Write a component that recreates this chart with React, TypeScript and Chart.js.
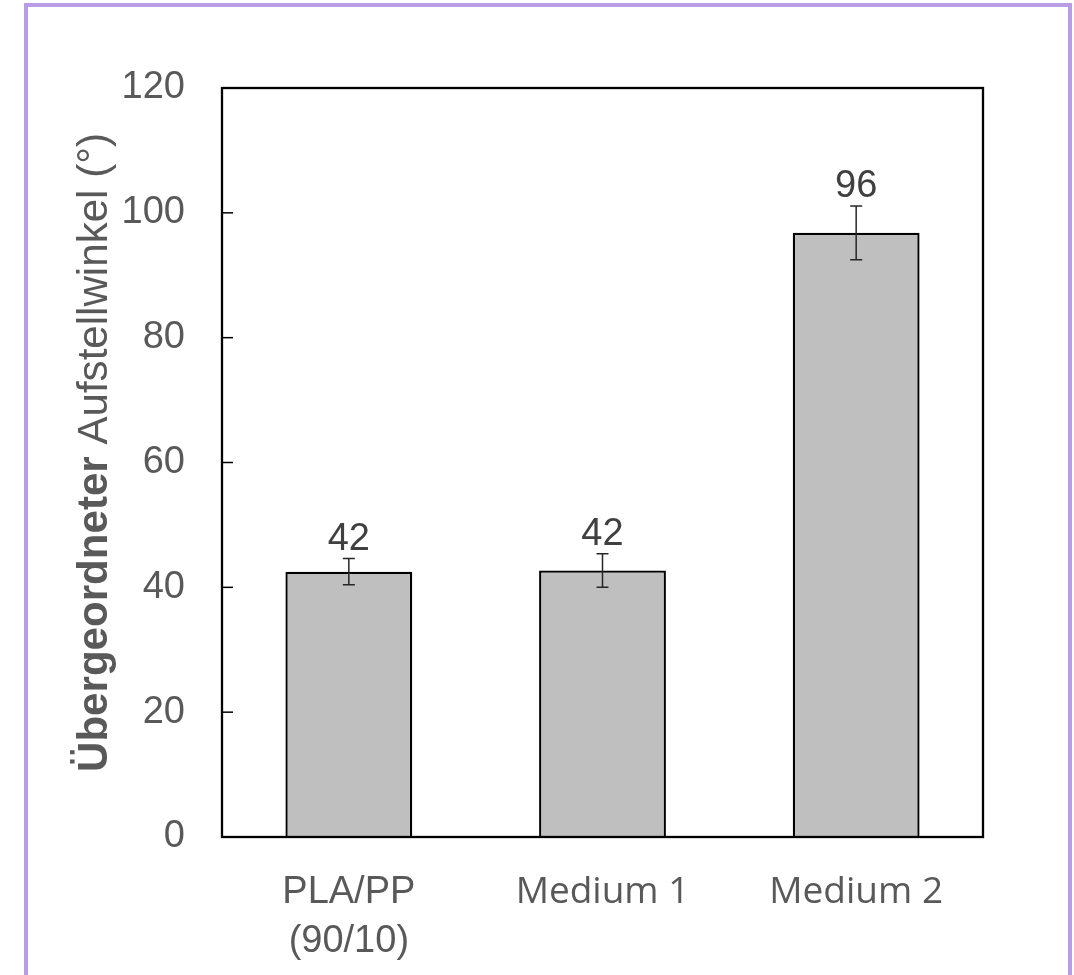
import React, { useEffect, useRef } from "react";
import { Chart, registerables } from "chart.js";

Chart.register(...registerables);

const categories: (string | string[])[] = [["PLA/PP", "(90/10)"], "Medium 1", "Medium 2"];
const meanValues = [42.5, 42.7, 96.8];
const errorValues = [2.1, 2.7, 4.3];
const valueLabels = ["42", "42", "96"];
const yMin = 0;
const yMax = 120;
const yStep = 20;
const yTitleBold = "Übergeordneter";
const yTitleRegular = " Aufstellwinkel (°)";

const ARIAL = "'Liberation Sans', Arial, sans-serif";
const CALIBRI = "'Open Sans', 'Noto Sans', sans-serif";

const decorPlugin = {
  id: "decor",
  afterDatasetsDraw(chart: any) {
    const { ctx, chartArea: a, scales } = chart;
    const y = scales.y;
    ctx.save();

    const meta = chart.getDatasetMeta(0);
    meta.data.forEach((bar: any, i: number) => {
      const cx = bar.x;
      const top = y.getPixelForValue(meanValues[i] + errorValues[i]);
      const bot = y.getPixelForValue(meanValues[i] - errorValues[i]);
      ctx.strokeStyle = "#262626";
      ctx.lineWidth = 1.5;
      ctx.beginPath();
      ctx.moveTo(cx, top);
      ctx.lineTo(cx, bot);
      ctx.moveTo(cx - 6, top);
      ctx.lineTo(cx + 6, top);
      ctx.moveTo(cx - 6, bot);
      ctx.lineTo(cx + 6, bot);
      ctx.stroke();

      ctx.fillStyle = "#404040";
      ctx.font = `38px ${ARIAL}`;
      ctx.textAlign = "center";
      ctx.textBaseline = "alphabetic";
      ctx.fillText(valueLabels[i], cx, top - 9);
    });

    ctx.strokeStyle = "#000";
    ctx.lineWidth = 1.5;
    y.ticks.forEach((t: any) => {
      if (t.value > y.min && t.value < y.max) {
        const py = y.getPixelForValue(t.value);
        ctx.beginPath();
        ctx.moveTo(a.left, py);
        ctx.lineTo(a.left + 11, py);
        ctx.stroke();
      }
    });

    ctx.lineWidth = 2.3;
    ctx.strokeRect(a.left, a.top, a.right - a.left, a.bottom - a.top);

    const fontSize = 42;
    const boldFont = `bold ${fontSize}px ${ARIAL}`;
    const regFont = `${fontSize}px ${ARIAL}`;
    ctx.font = boldFont;
    const wb = ctx.measureText(yTitleBold).width;
    ctx.font = regFont;
    const wr = ctx.measureText(yTitleRegular).width;
    const total = wb + wr;
    const targetLen = 639;
    const s = targetLen / total;
    const cy = (a.top + a.bottom) / 2 - 10;
    ctx.translate(107, cy);
    ctx.rotate(-Math.PI / 2);
    ctx.scale(s, 1);
    ctx.fillStyle = "#595959";
    ctx.textAlign = "left";
    ctx.textBaseline = "alphabetic";
    ctx.font = boldFont;
    ctx.fillText(yTitleBold, -total / 2, 0);
    ctx.font = regFont;
    ctx.fillText(yTitleRegular, -total / 2 + wb, 0);

    ctx.restore();
  },
};

export default function App() {
  const canvasRef = useRef<HTMLCanvasElement>(null);

  useEffect(() => {
    const canvas = canvasRef.current;
    if (!canvas) return;
    const chart = new Chart(canvas, {
      type: "bar",
      data: {
        labels: categories,
        datasets: [
          {
            data: meanValues,
            backgroundColor: "#bfbfbf",
            borderColor: "#000000",
            borderWidth: 2.3,
            barPercentage: 0.5,
            categoryPercentage: 1,
          },
        ],
      },
      options: {
        responsive: false,
        animation: false,
        layout: { padding: { top: 88, right: 91, left: 0, bottom: 0 } },
        plugins: { legend: { display: false }, tooltip: { enabled: false } },
        scales: {
          x: {
            grid: { display: false },
            border: { display: false },
            ticks: {
              color: "#595959",
              padding: 23,
              maxRotation: 0,
              autoSkip: false,
              font: (c: any) =>
                c.index === 0
                  ? { family: ARIAL, size: 38, lineHeight: 49 / 38 }
                  : { family: CALIBRI, size: 37, lineHeight: 48 / 37 },
            },
            afterFit: (s: any) => {
              s.height = 138;
            },
          },
          y: {
            min: yMin,
            max: yMax,
            grid: { display: false },
            border: { display: false },
            ticks: {
              stepSize: yStep,
              color: "#595959",
              padding: 29,
              font: { family: ARIAL, size: 38 },
            },
            afterFit: (s: any) => {
              s.width = 222;
            },
          },
        },
      },
      plugins: [decorPlugin],
    });
    return () => chart.destroy();
  }, []);

  return (
    <div
      style={{
        position: "absolute",
        left: 0,
        top: 0,
        width: 1074,
        height: 975,
        overflow: "hidden",
        background: "#fff",
      }}
    >
      <div
        style={{
          position: "absolute",
          left: 24,
          top: 3,
          width: 1040,
          height: 1000,
          borderLeft: "4px solid #b89de6",
          borderTop: "4px solid #b89de6",
          borderRight: "4px solid #b89de6",
        }}
      />
      <canvas
        ref={canvasRef}
        width={1074}
        height={975}
        style={{ position: "absolute", left: 0, top: 0, width: 1074, height: 975 }}
      />
    </div>
  );
}
